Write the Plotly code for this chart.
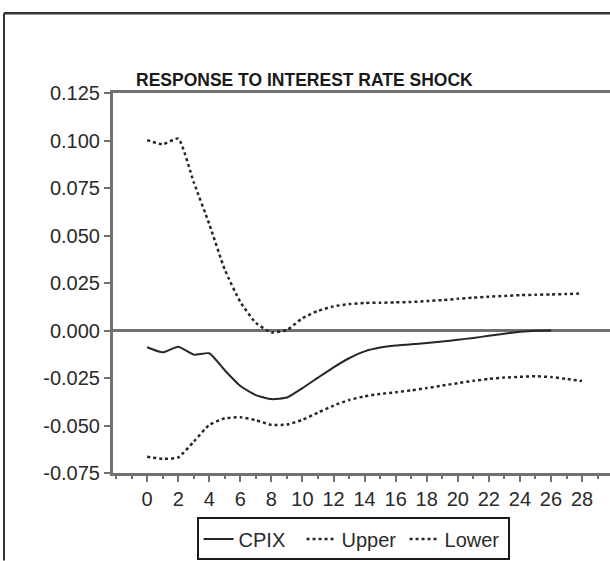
import plotly.graph_objects as go

periods = list(range(0, 29))
cpix_periods = list(range(0, 27))
cpix = [-0.0088, -0.0115, -0.0085, -0.0127, -0.0120, -0.0210, -0.0292, -0.0340, -0.0361,
        -0.0353, -0.0303, -0.0248, -0.0194, -0.0146, -0.0110, -0.0090, -0.0079, -0.0073,
        -0.0066, -0.0058, -0.0049, -0.0039, -0.0028, -0.0017, -0.0007, -0.0001, 0.0]
upper = [0.1002, 0.0980, 0.1010, 0.0780, 0.0560, 0.0320, 0.0150, 0.0040, -0.0010,
         0.0003, 0.0065, 0.0103, 0.0127, 0.0139, 0.0145, 0.0146, 0.0148, 0.0150,
         0.0155, 0.0160, 0.0167, 0.0173, 0.0178, 0.0182, 0.0186, 0.0188, 0.0190,
         0.0192, 0.0195]
lower = [-0.0665, -0.0675, -0.0668, -0.0585, -0.0497, -0.0462, -0.0457, -0.0472, -0.0497,
         -0.0495, -0.0470, -0.0432, -0.0395, -0.0366, -0.0346, -0.0334, -0.0325, -0.0315,
         -0.0303, -0.0290, -0.0277, -0.0265, -0.0255, -0.0248, -0.0244, -0.0241, -0.0245,
         -0.0255, -0.0266]
y_ticks = [0.125, 0.100, 0.075, 0.050, 0.025, 0.000, -0.025, -0.050, -0.075]
y_tick_labels = ["0.125", "0.100", "0.075", "0.050", "0.025", "0.000", "-0.025", "-0.050", "-0.075"]
x_ticks = list(range(0, 29, 2))
title_text = "RESPONSE TO INTEREST RATE SHOCK"

LINE = "#262626"
AXIS = "#707070"
FONT = "Liberation Sans, Arial, sans-serif"

fig = go.Figure()
fig.add_trace(go.Scatter(x=cpix_periods, y=cpix, name="CPIX", mode="lines",
                         line=dict(color=LINE, width=2, shape="spline", smoothing=0.5)))
fig.add_trace(go.Scatter(x=periods, y=upper, name="Upper", mode="lines",
                         line=dict(color=LINE, width=2.5, dash="3px,3px", shape="spline", smoothing=0.5)))
fig.add_trace(go.Scatter(x=periods, y=lower, name="Lower", mode="lines",
                         line=dict(color=LINE, width=2.5, dash="3px,3px", shape="spline", smoothing=0.5)))

fig.update_layout(
    width=610, height=561,
    margin=dict(l=113, r=0, t=93, b=84, pad=0),
    paper_bgcolor="white", plot_bgcolor="white",
    font=dict(family=FONT, size=20, color="#2a2a2a"),
    showlegend=True,
    legend=dict(orientation="h", x=0.483, xanchor="center", y=-0.117, yanchor="top",
                bordercolor="#1a1a1a", borderwidth=2, bgcolor="white",
                font=dict(family=FONT, size=20, color="#2a2a2a"),
                entrywidth=58, entrywidthmode="pixels", itemwidth=30, tracegroupgap=0),
    xaxis=dict(range=[-2.2, 29.8], tickvals=x_ticks, ticktext=[str(v) for v in x_ticks],
               showgrid=False, zeroline=False, showline=True, linecolor=AXIS, linewidth=3,
               mirror=True, ticks="outside", ticklen=6, tickwidth=2, tickcolor=AXIS,
               minor=dict(dtick=1, tick0=0, ticks="outside", ticklen=3, tickwidth=2, tickcolor=AXIS, showgrid=False),
               tickfont=dict(size=20)),
    yaxis=dict(range=[-0.075, 0.125], tickvals=y_ticks, ticktext=y_tick_labels,
               showgrid=False, zeroline=True, zerolinecolor=AXIS, zerolinewidth=3,
               showline=True, linecolor=AXIS, linewidth=3, mirror=False,
               ticks="outside", ticklen=6, tickwidth=2, tickcolor=AXIS,
               tickfont=dict(size=20)),
    annotations=[dict(text="<b>" + title_text + "</b>", xref="paper", yref="paper",
                      x=0.386, y=1.0, xanchor="center", yanchor="bottom", yshift=1,
                      showarrow=False,
                      font=dict(family="Liberation Sans, Arial, sans-serif",
                                size=17.5, color="#1a1a1a"))],
    shapes=[
        dict(type="line", xref="paper", yref="paper", x0=-0.2193, x1=1.0, y0=1.21, y1=1.21,
             line=dict(color="#333333", width=2.5), layer="above"),
        dict(type="line", xref="paper", yref="paper", x0=-0.2193, x1=-0.2193, y0=1.21, y1=-0.23,
             line=dict(color="#333333", width=2), layer="above"),
    ],
)

fig.write_html("out.html", config={"displayModeBar": False},
               post_script="document.body.style.margin='0';document.body.style.overflow='hidden';")
